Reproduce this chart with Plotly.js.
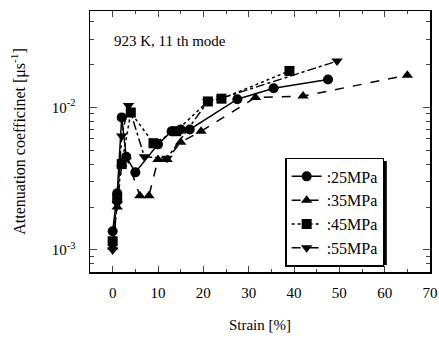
<!DOCTYPE html>
<html>
<head>
<meta charset="utf-8">
<script src="https://cdn.plot.ly/plotly-3.0.1.min.js"></script>
<style>html,body{margin:0;padding:0;background:#fff;}#chart{width:439px;height:340px;}</style>
</head>
<body>
<div id="chart"></div>
<script>
// Data
const seriesNames = [":25MPa", ":35MPa", ":45MPa", ":55MPa"];
const strain25 = [0, 1, 2, 3, 5, 10, 13, 15, 17, 27.5, 35.5, 47.5];
const atten25  = [0.00135, 0.0025, 0.0085, 0.0045, 0.0035, 0.0055, 0.0068, 0.0070, 0.0070, 0.0114, 0.0136, 0.0157];
const strain35 = [0, 1, 2, 3, 6, 8, 10, 12, 15, 19.5, 31.5, 42, 65];
const atten35  = [0.00105, 0.0020, 0.0040, 0.0045, 0.0024, 0.0024, 0.0043, 0.0043, 0.0057, 0.0068, 0.0117, 0.0120, 0.0168];
const strain45 = [0, 1, 2, 4, 9, 14, 21, 24, 39];
const atten45  = [0.00115, 0.0023, 0.0040, 0.0092, 0.0056, 0.0068, 0.0110, 0.0115, 0.0180];
const strain55 = [0, 1, 2, 3.5, 7, 12, 21, 24, 49.5];
const atten55  = [0.0010, 0.0021, 0.0063, 0.0103, 0.0045, 0.0044, 0.0110, 0.0116, 0.0211];
const xTickVals = [0, 10, 20, 30, 40, 50, 60, 70];
const yTickVals = [0.001, 0.01];
const yTickText = ["10<sup>-3</sup>", "10<sup>-2</sup>"];
const yMinorVals = [0.0007,0.0008,0.0009,0.002,0.003,0.004,0.005,0.006,0.007,0.008,0.009,0.02,0.03,0.04];

const serif = "Liberation Serif, Times New Roman, serif";
const mk = (x, y, name, sym, dash) => ({
  x: x, y: y, name: name, type: "scatter", mode: "lines+markers",
  line: {color: "#000", width: 1.5, dash: dash},
  marker: {symbol: sym, size: 10, color: "#000"}
});
const data = [
  mk(strain25, atten25, seriesNames[0], "circle", "solid"),
  mk(strain35, atten35, seriesNames[1], "triangle-up", "dash"),
  mk(strain45, atten45, seriesNames[2], "square", "dot"),
  mk(strain55, atten55, seriesNames[3], "triangle-down", "dashdot")
];
const layout = {
  width: 439, height: 340,
  margin: {l: 90, r: 9, t: 11, b: 68},
  paper_bgcolor: "#fff", plot_bgcolor: "#fff",
  font: {family: serif, color: "#000", size: 14},
  showlegend: true,
  legend: {x: 0.574, y: 0.437, xanchor: "left", yanchor: "top",
           bgcolor: "#fff", bordercolor: "#000", borderwidth: 1.5,
           font: {family: serif, size: 16}, tracegroupgap: 0},
  shapes: [{type: "rect", xref: "paper", yref: "paper", layer: "above",
            x0: 0.585, x1: 0.873, y0: 0.027, y1: 0.425,
            fillcolor: "#000", line: {width: 0}}],
  xaxis: {
    range: [-5, 70], tickvals: xTickVals, ticks: "inside", ticklen: 6,
    showline: true, linecolor: "#000", linewidth: 1.5, mirror: "allticks",
    showgrid: false, zeroline: false, tickfont: {size: 15}, ticklabelstandoff: 6,
    minor: {dtick: 5, tick0: 0, ticks: "inside", ticklen: 3},
    title: {text: "Strain [%]", font: {size: 15}, standoff: 20}
  },
  yaxis: {
    type: "log", range: [Math.log10(0.0007), Math.log10(0.0474)],
    tickvals: yTickVals, ticktext: yTickText, ticks: "inside", ticklen: 7,
    showline: true, linecolor: "#000", linewidth: 1.5, mirror: "allticks",
    showgrid: false, zeroline: false, tickfont: {size: 15}, ticklabelstandoff: 10,
    minor: {tickvals: yMinorVals, ticks: "inside", ticklen: 4},
    title: {text: "Attenuation coefficinet [μs<sup>-1</sup>]", font: {size: 16}, standoff: 22}
  },
  annotations: [{
    text: "923 K, 11 th mode", xref: "paper", yref: "paper",
    x: 0.065, y: 0.885, xanchor: "left", yanchor: "middle",
    showarrow: false, font: {family: serif, size: 15}
  }]
};
Plotly.newPlot("chart", data, layout, {displayModeBar: false, staticPlot: true});
</script>
</body>
</html>
